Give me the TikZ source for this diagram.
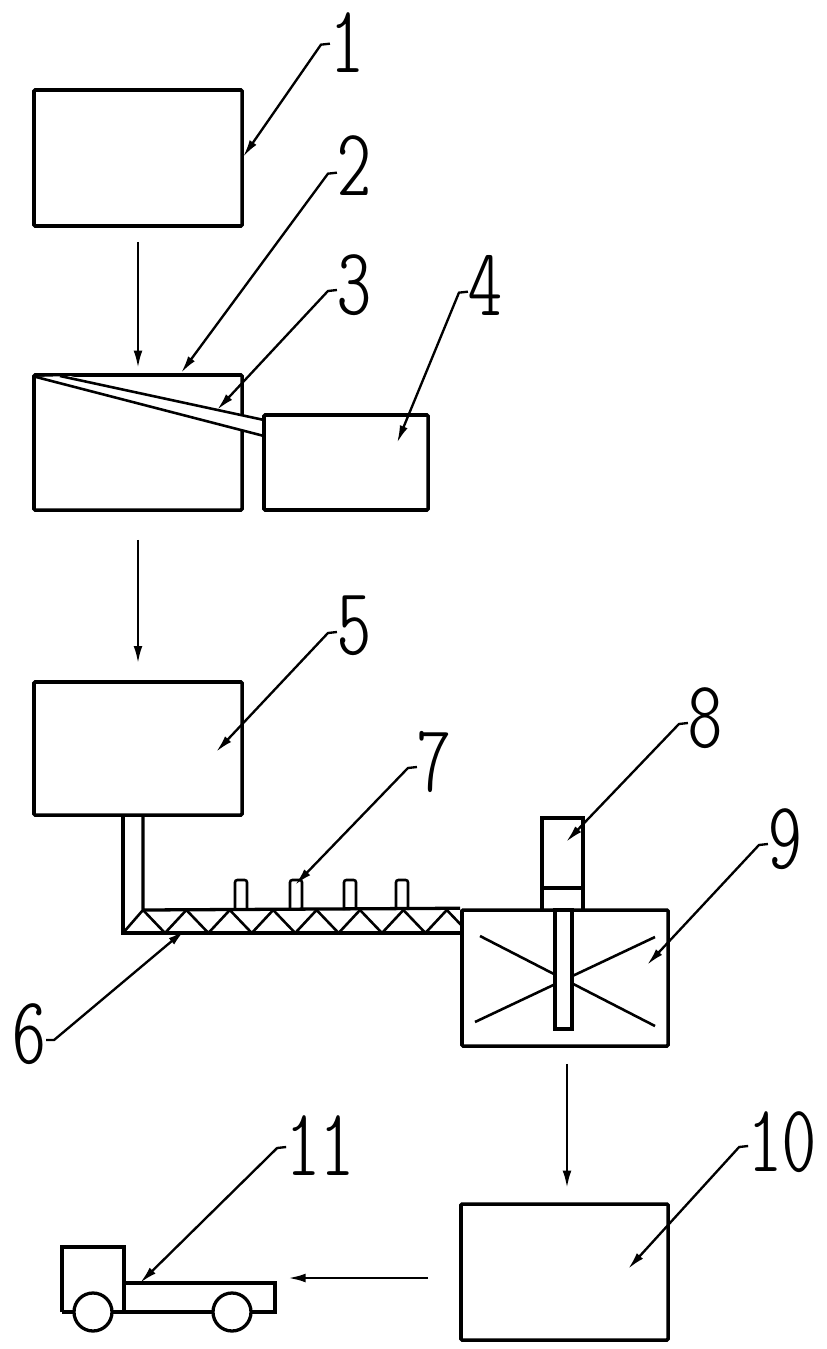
\documentclass[tikz,border=0pt]{standalone}
\usepackage{fontspec}
\usepackage{tikz}
\usetikzlibrary{arrows.meta,positioning,calc}
\newfontfamily\numfont{lmmonoltcond10-regular.otf}

\tikzset{
	box/.style={draw,line width=3pt,rounded corners=1pt,inner sep=0pt},
	num/.style={font=\numfont\fontsize{82}{82}\selectfont,inner sep=0pt},
	lead/.style={line width=2pt,-{Latex[length=15pt,width=7pt]}},
	flow/.style={line width=2.2pt,-{Latex[length=15pt,width=7.5pt]}},
	part/.style={line width=2.8pt},
	thin part/.style={line width=2.2pt}
}

\begin{document}
\begin{tikzpicture}[x=0.03cm,y=-0.03cm]
	\useasboundingbox (0,0) rectangle (826,1349);
	\node[box,minimum width=6.24cm,minimum height=4.08cm] (b1) at (138,158) {};
	\node[box,minimum width=6.24cm,minimum height=4.05cm] (b2) at (138,442.5) {};
	\node[box,minimum width=6.24cm,minimum height=3.99cm] (b5) at (138,748.5) {};
	\node[box,minimum width=6.18cm,minimum height=4.08cm] (b9) at (565,978) {};
	\node[box,minimum width=6.21cm,minimum height=4.08cm] (b10) at (564.5,1272) {};

	\fill[white] (36,377) -- (70,376) -- (264,420) -- (264,436) -- cycle;
	\draw[thin part] (60,376) -- (264,420);
	\draw[thin part] (36,377) -- (264,436);
	\node[box,minimum width=4.92cm,minimum height=2.85cm] (b4) at (346,462.5) {};

	\draw[flow,shorten <=0.42cm,shorten >=0.15cm] (b1.south) -- (b2.north);
	\draw[flow,shorten <=0.84cm,shorten >=0.5cm] (b2.south) -- (b5.north);
	\draw[flow,shorten <=0.48cm,shorten >=0.42cm] ([xshift=0.06cm]b9.south) -- ([xshift=0.075cm]b10.north);

	\draw[part] (123,815) -- (123,933) -- (b9.west |- 0,933);
	\draw[part] (143,815) -- (143,910) -- (b9.north west);
	\begin{scope}
		\clip (123,910) rectangle (462,933);
		\draw[thin part] (123,933) foreach \k in {0,...,7} { -- (143+43.4*\k,910) -- (165+43.4*\k,933) };
	\end{scope}
	\foreach \x in {235,290,344,396}
		\draw[thin part,rounded corners=2pt] (\x,910) -- (\x,880) -- (\x+12,880) -- (\x+12,910);

	\draw[thin part] (480,936) -- (655,1026);
	\draw[thin part] (475,1022) -- (655,937);
	\filldraw[part,fill=white] (555,910) rectangle (572,1029);
	\draw[part] (542,910) -- (542,818) -- (583,818) -- (583,910);
	\draw[part] (542,888) -- (583,888);

	\draw[part] (62,1312) -- (62,1247) -- (124,1247) -- (124,1312);
	\draw[part] (62,1312) -- (275,1312) -- (275,1283) -- (124,1283);
	\filldraw[part,fill=white] (93,1312) circle[radius=0.57cm];
	\filldraw[part,fill=white] (232,1312) circle[radius=0.57cm];
	\coordinate (truck) at (275,1278);
	\draw[flow,shorten <=0.93cm,shorten >=0.39cm] (b10.west |- truck) -- (truck);

	\node[num] (l1) at (347,43) {1};
	\node[num] (l2) at (354,166) {2};
	\node[num] (l3) at (354,285) {3};
	\node[num] (l4) at (485,285) {4};
	\node[num] (l5) at (354,626) {5};
	\node[num] (l6) at (29,1034) {6};
	\node[num] (l7) at (434,762) {7};
	\node[num] (l8) at (705,718) {8};
	\node[num] (l9) at (785,839) {9};
	\node[num] (l10) at (782,1142) {10};
	\node[num] (l11) at (320,1146) {11};

	\draw[lead] ([yshift=-0.02cm]l1.west) -- ++(-9,1) -- (243,157);
	\draw[lead] ([yshift=-0.2cm]l2.west) -- ++(-9,1) -- (181,373);
	\draw[lead] ([yshift=-0.15cm]l3.west) -- ++(-9,1) -- (217,410);
	\draw[lead] ([yshift=-0.2cm]l4.west) -- ++(-9,1) -- (397,443);
	\draw[lead] ([yshift=-0.18cm]l5.west) -- ++(-9,1) -- (216,752);
	\draw[lead] ([yshift=-0.18cm]l6.east) -- ++(8,0) -- (185,930);
	\draw[lead] ([yshift=-0.15cm]l7.west) -- ++(-9,1) -- (295,885);
	\draw[lead] ([yshift=-0.15cm]l8.west) -- ++(-9,1) -- (566,842);
	\draw[lead] ([yshift=-0.15cm]l9.west) -- ++(-9,1) -- (647,965);
	\draw[lead] ([yshift=-0.12cm]l10.west) -- ++(-9,1) -- (628,1269);
	\draw[lead] ([yshift=-0.03cm]l11.west) -- ++(-9,1) -- (140,1283);
\end{tikzpicture}
\end{document}
